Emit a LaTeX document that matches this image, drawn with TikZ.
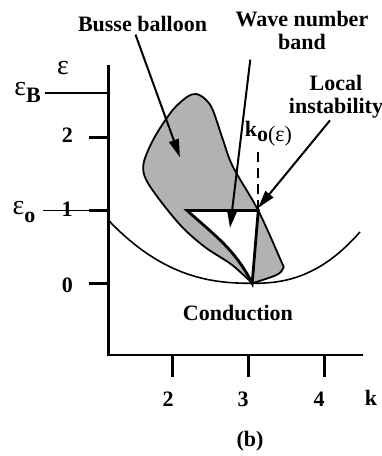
\documentclass[tikz,border=0pt]{standalone}
\usepackage{fontspec}
\setmainfont{Liberation Serif}
\usetikzlibrary{arrows.meta}
\tikzset{
    axisline/.style={line width=1.3pt, black},
    tickline/.style={line width=1.4pt, black},
    levelline/.style={line width=0.8pt, black},
    neutralline/.style={line width=0.8pt, black},
    % shaded stable region
    balloonline/.style={line width=0.9pt, black, fill=black!30, line join=round},
    bandline/.style={line width=1.4pt, black, fill=white},
    labelarrow/.style={
        line width=1pt,
        black,
        -{Triangle[length=9pt, width=5pt]}
    },
    boldlabel/.style={font=\fontsize{11}{11.5}\selectfont\bfseries, inner sep=1pt, align=center},
    epslabel/.style={font=\fontsize{14}{16}\selectfont, inner sep=1pt}
}
\begin{document}
\begin{tikzpicture}[x=37.85pt,y=36.4pt]
   \useasboundingbox (-0.2814,-2.3723) rectangle (4.7517,3.8915);
   \coordinate (bandleft) at (2.19,1);
   \coordinate (kzeropt) at (3.13,1);
   \coordinate (kzerotop) at (3.13,1.87);
   \coordinate (bandtip) at (3.05,0);
   \coordinate (bussetip) at (2.096,1.731);
   \coordinate (wavetip) at (2.757,0.761);
   \coordinate (localtip) at (3.127,1.034);

   \draw[balloonline] plot[smooth, tension=0.55] coordinates {(3.05,0) (2.783,0.253) (2.427,0.497) (2.123,0.775) (1.832,1.14) (1.65,1.42) (1.61,1.6) (1.66,1.79) (1.79,2.06) (2.0,2.38) (2.19,2.56) (2.31,2.6) (2.43,2.53) (2.53,2.38) (2.665,1.968) (2.797,1.598) (3.13,1.0) (3.43,0.31) (3.46,0.21) (3.37,0.114) (3.05,0)} -- cycle;
   \draw[bandline] (bandtip) to[out=117, in=-42] (bandleft) -- (kzeropt) -- cycle;
   % neutral curve
   \draw[neutralline] plot[domain=1.149:3.045, samples=40] (\x,{0.186*pow(3.05-\x,2.4)})
       -- plot[domain=3.055:4.474, samples=30] (\x,{0.302*pow(\x-3.05,2.4)});
   \draw[line width=0.8pt, dash pattern=on 5pt off 3pt] (kzeropt) -- (kzerotop);

   % axes and ticks
   \draw[axisline] (1.149,3.0) -- (1.149,-0.985) -- (4.514,-0.985);
   \foreach \e in {0,1,2} \draw[tickline] (0.898,\e) -- (1.149,\e);
   \foreach \k in {2,3,4} \draw[tickline] (\k,-0.985) -- (\k,-1.287);
   \draw[levelline] (0.313,2.614) -- (1.149,2.614);
   \draw[levelline] (0.287,1) -- (0.898,1);

   \node[epslabel] (epsaxis) at (0.551,2.957) {ε};
   \node[epslabel] (epsB) at (0.082,2.62) {ε\raisebox{-3.5pt}{\fontsize{11}{12}\selectfont\bfseries B}};
   \node[epslabel] (epso) at (0.036,0.973) {ε\raisebox{-4pt}{\fontsize{11}{12}\selectfont\bfseries o}};
   \node[boldlabel] (ytwo) at (0.61,2.04) {2};
   \node[boldlabel] (yone) at (0.604,1.014) {1};
   \node[boldlabel] (yzero) at (0.61,-0.023) {0};
   \node[boldlabel] (xtwo) at (1.938,-1.596) {2};
   \node[boldlabel] (xthree) at (2.929,-1.596) {3};
   \node[boldlabel] (xfour) at (3.933,-1.596) {4};
   \node[boldlabel] (kaxis) at (4.62,-1.576) {k};
   \node[boldlabel] (panel) at (3.021,-2.173) {(b)};

   \node[boldlabel] (conduction) at (2.862,-0.41) {Conduction};
   \node[boldlabel] (busse) at (1.601,3.555) {Busse balloon};
   \node[boldlabel] (waveband) at (3.708,3.466) {Wave number\\band};
   \node[boldlabel] (localinst) at (4.157,2.566) {Local\\instability};
   \node[boldlabel] (kzero) at (3.265,2.05) {k\raisebox{-2.5pt}{o\mdseries(ε)}};

   \draw[labelarrow] ([xshift=-3.5pt]busse.south) -- (bussetip);
   \draw[labelarrow] ([xshift=8.5pt,yshift=-3.5pt]waveband.south west) -- (wavetip);
   \draw[labelarrow] ([xshift=-3pt]localinst.south) -- (localtip);
\end{tikzpicture}
\end{document}
